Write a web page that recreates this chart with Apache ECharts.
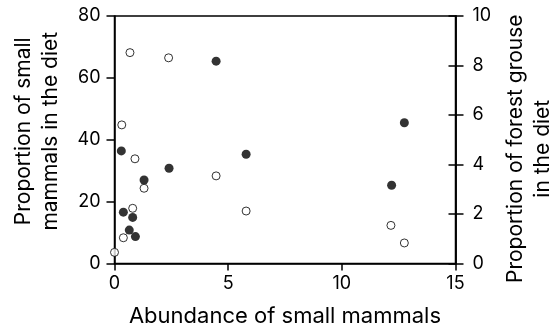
<!DOCTYPE html>
<html>
<head>
<meta charset="utf-8">
<script src="https://cdn.jsdelivr.net/npm/echarts@6/dist/echarts.min.js"></script>
<style>
  html, body { margin: 0; padding: 0; background: #fff; }
  #chart { width: 555px; height: 331px; }
</style>
</head>
<body>
<div id="chart"></div>
<script>
// filled circles: small mammals (left axis, %)
const mammalX = [0.30, 0.39, 0.65, 0.80, 0.92, 1.30, 2.40, 4.47, 5.79, 12.19, 12.75]
const mammalY = [36.4, 16.6, 10.8, 14.9, 8.7, 27.0, 30.8, 65.4, 35.3, 25.3, 45.5]
// open circles: forest grouse (right axis, %)
const grouseX = [0, 0.32, 0.39, 0.68, 0.80, 0.90, 1.30, 2.38, 4.47, 5.79, 12.16, 12.75]
const grouseY = [0.45, 5.6, 1.04, 8.52, 2.23, 4.23, 3.04, 8.31, 3.54, 2.12, 1.54, 0.83]

const font = 'Inter, "Liberation Sans", sans-serif'
const black = '#000'

const myChart = echarts.init(document.getElementById('chart'), null, { renderer: 'canvas' })

const lineStyle = { color: black, width: 1.5 }

const option = {
  animation: false,
  backgroundColor: '#fff',
  grid: {
    left: 114.5,
    right: 99.5,
    top: 16,
    bottom: 67.5,
    outerBoundsMode: 'none',
    show: true,
    borderColor: black,
    borderWidth: 1.5,
  },
  xAxis: {
    type: 'value',
    min: 0,
    max: 15,
    interval: 5,
    name: 'Abundance of small mammals',
    nameLocation: 'middle',
    nameGap: 42,
    nameMoveOverlap: false,
    nameTextStyle: { fontFamily: font, fontSize: 22, color: black },
    axisLine: { lineStyle },
    axisTick: { length: 7, lineStyle },
    axisLabel: { margin: 11, fontFamily: font, fontSize: 18, color: black },
    splitLine: { show: false },
  },
  yAxis: [
    {
      type: 'value',
      position: 'left',
      min: 0,
      max: 80,
      interval: 20,
      name: 'Proportion of small\nmammals in the diet',
      nameLocation: 'middle',
      nameRotate: 90,
      nameGap: 50,
      nameMoveOverlap: false,
      nameTextStyle: { fontFamily: font, fontSize: 21, color: black, lineHeight: 27, padding: [0, 0, 0, 17] },
      axisLine: { show: true, lineStyle },
      axisTick: { show: true, length: 8, lineStyle },
      axisLabel: { margin: 14, fontFamily: font, fontSize: 18, color: black },
      splitLine: { show: false },
    },
    {
      type: 'value',
      position: 'right',
      min: 0,
      max: 10,
      interval: 2,
      name: 'Proportion of forest grouse\nin the diet',
      nameLocation: 'middle',
      nameRotate: 90,
      nameGap: 47,
      nameMoveOverlap: false,
      nameTextStyle: { fontFamily: font, fontSize: 21, color: black, lineHeight: 27, padding: [0, 18, 0, 0] },
      axisLine: { show: true, lineStyle },
      axisTick: { show: true, length: 8, lineStyle },
      axisLabel: { margin: 17, fontFamily: font, fontSize: 18, color: black },
      splitLine: { show: false },
    },
    {
      // inner half of the right-hand ticks
      type: 'value',
      position: 'right',
      min: 0,
      max: 10,
      interval: 2,
      axisLine: { show: true, lineStyle },
      axisTick: { show: true, inside: true, length: 7, lineStyle },
      axisLabel: { show: false },
      splitLine: { show: false },
    },
  ],
  series: [
    {
      name: 'small mammals',
      type: 'scatter',
      yAxisIndex: 0,
      symbol: 'circle',
      symbolSize: 9,
      itemStyle: { color: black },
      data: mammalX.map((x, i) => [x, mammalY[i]]),
      z: 3,
    },
    {
      name: 'forest grouse',
      type: 'scatter',
      yAxisIndex: 1,
      symbol: 'circle',
      symbolSize: 8,
      itemStyle: { color: '#fff', borderColor: black, borderWidth: 1 },
      data: grouseX.map((x, i) => [x, grouseY[i]]),
      z: 4,
    },
  ],
}

myChart.setOption(option)
</script>
</body>
</html>
